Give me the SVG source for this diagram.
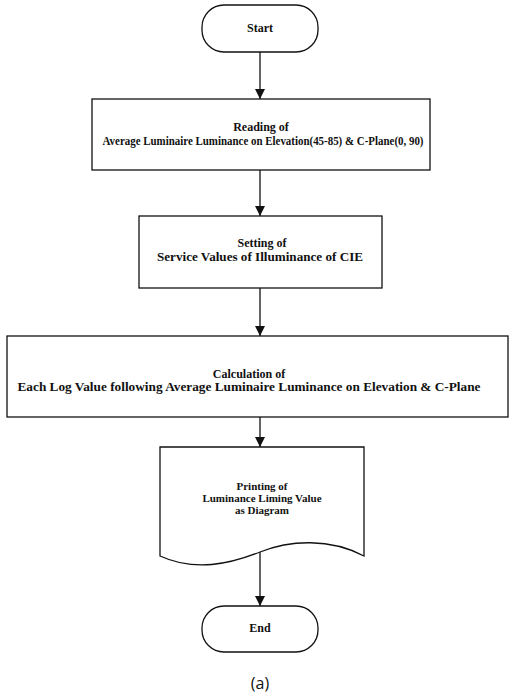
<svg xmlns="http://www.w3.org/2000/svg" width="510" height="696" viewBox="0 0 510 696">
<defs>
<marker id="ah" viewBox="0 0 10 10" refX="10" refY="5" markerWidth="10" markerHeight="10" markerUnits="userSpaceOnUse" orient="auto">
<path d="M0,0 L10,5 L0,10 Z" fill="#111"/>
</marker>
<style>
.s{fill:#fff;stroke:#111;stroke-width:1.3}
.t{font-family:"Liberation Serif","Times New Roman",serif;font-weight:bold;font-size:12px;fill:#111;text-anchor:middle}
.p{font-size:11px}
.c{stroke:#111;stroke-width:1.3;fill:none}
</style>
</defs>
<rect width="510" height="696" fill="#fff"/>
<g id="connectors">
<line class="c" x1="260" y1="52" x2="260" y2="99" marker-end="url(#ah)"/>
<line class="c" x1="260" y1="170" x2="260" y2="216" marker-end="url(#ah)"/>
<line class="c" x1="260" y1="288" x2="260" y2="336" marker-end="url(#ah)"/>
<line class="c" x1="260" y1="417" x2="260" y2="447" marker-end="url(#ah)"/>
<line class="c" x1="260" y1="552" x2="260" y2="606" marker-end="url(#ah)"/>
</g>
<g id="start">
<rect class="s" x="202" y="5" width="116" height="47" rx="22" ry="22"/>
<text class="t" x="260" y="32" font-size="13">Start</text>
</g>
<g id="reading">
<rect class="s" x="92" y="99" width="338" height="71"/>
<text class="t" x="261" y="131">Reading of</text>
<text class="t" x="263" y="145" textLength="321" lengthAdjust="spacingAndGlyphs">Average Luminaire Luminance on Elevation(45-85) &amp; C-Plane(0, 90)</text>
</g>
<g id="setting">
<rect class="s" x="139" y="216" width="243" height="72"/>
<text class="t" x="262" y="247">Setting of</text>
<text class="t" x="260" y="261" textLength="206" lengthAdjust="spacingAndGlyphs">Service Values of Illuminance of CIE</text>
</g>
<g id="calculation">
<rect class="s" x="7" y="336" width="501" height="81"/>
<text class="t" x="249" y="378">Calculation of</text>
<text class="t" x="249" y="391" textLength="463" lengthAdjust="spacingAndGlyphs">Each Log Value following Average Luminaire Luminance on Elevation &amp; C-Plane</text>
</g>
<g id="printing">
<path class="s" d="M160,447 H364 V556 C330,538 290,540 260,552 C230,564 195,572 160,556 Z"/>
<text class="t p" x="262" y="490">Printing of</text>
<text class="t p" x="262" y="502">Luminance Liming Value</text>
<text class="t p" x="262" y="514">as Diagram</text>
</g>
<g id="end">
<rect class="s" x="202" y="606" width="116" height="46" rx="22" ry="22"/>
<text class="t" x="260" y="632" font-size="13">End</text>
</g>
<text x="260" y="689" font-family="'Open Sans','Noto Sans',sans-serif" font-size="16" fill="#111" text-anchor="middle">(a)</text>
</svg>
